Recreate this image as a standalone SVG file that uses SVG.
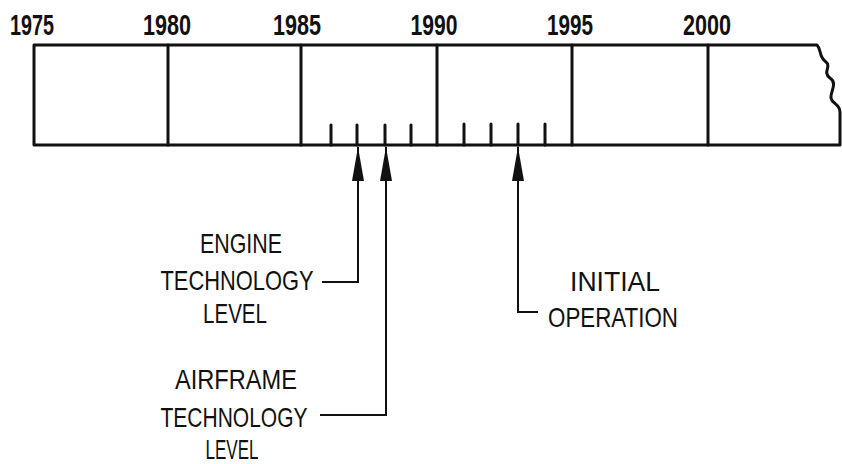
<svg xmlns="http://www.w3.org/2000/svg" width="842" height="464" viewBox="0 0 842 464">
<style>
.box{fill:none;stroke:#111;stroke-width:3;stroke-linejoin:round;stroke-linecap:round}
.tick{stroke:#111;stroke-width:3;stroke-linecap:round}
.lead{fill:none;stroke:#111;stroke-width:2}
.yr{font-family:"Liberation Sans Narrow","Liberation Sans",Arial,sans-serif;font-size:29px;font-weight:bold;fill:#111;text-anchor:middle}
.lbl{font-family:"Liberation Sans Narrow","Liberation Sans",Arial,sans-serif;font-size:28px;fill:#111;text-anchor:middle}
</style>
<defs>
<marker id="ah" viewBox="0 0 34 12" refX="34" refY="6" markerWidth="34" markerHeight="12" markerUnits="userSpaceOnUse" orient="auto">
<path d="M34,6 L0,0 L0,12 Z" fill="#111"/>
</marker>
</defs>
<g id="timeline">
<path class="box" d="M817,45 L34,45 L34,145 L840,145 L840,112 C840,104 832,104 831,98 C830,92 838,83 830,78 C822,72 832,66 826,62 C818,56 822,50 817,45 Z"/>
<line class="box" x1="168" y1="45" x2="168" y2="145"/>
<line class="box" x1="301" y1="45" x2="301" y2="145"/>
<line class="box" x1="437" y1="45" x2="437" y2="145"/>
<line class="box" x1="572" y1="45" x2="572" y2="145"/>
<line class="box" x1="708" y1="45" x2="708" y2="145"/>
<line class="tick" x1="331" y1="125" x2="331" y2="145"/>
<line class="tick" x1="357" y1="125" x2="357" y2="145"/>
<line class="tick" x1="385" y1="125" x2="385" y2="145"/>
<line class="tick" x1="411" y1="125" x2="411" y2="145"/>
<line class="tick" x1="464" y1="124" x2="464" y2="145"/>
<line class="tick" x1="491" y1="124" x2="491" y2="145"/>
<line class="tick" x1="518" y1="124" x2="518" y2="145"/>
<line class="tick" x1="545" y1="124" x2="545" y2="145"/>
<text class="yr" x="32" y="35" textLength="44" lengthAdjust="spacingAndGlyphs">1975</text>
<text class="yr" x="167" y="35" textLength="48" lengthAdjust="spacingAndGlyphs">1980</text>
<text class="yr" x="297" y="35" textLength="48" lengthAdjust="spacingAndGlyphs">1985</text>
<text class="yr" x="434" y="35" textLength="47" lengthAdjust="spacingAndGlyphs">1990</text>
<text class="yr" x="570" y="35" textLength="46" lengthAdjust="spacingAndGlyphs">1995</text>
<text class="yr" x="707" y="35" textLength="48" lengthAdjust="spacingAndGlyphs">2000</text>
</g>
<g id="connectors">
<path class="lead" d="M322,282 L358,282 L358,147" marker-end="url(#ah)"/>
<path class="lead" d="M320,415 L386,415 L386,147" marker-end="url(#ah)"/>
<path class="lead" d="M538,312 L518,312 L518,147" marker-end="url(#ah)"/>
</g>
<g id="engine">
<text class="lbl" x="241" y="253" textLength="82" lengthAdjust="spacingAndGlyphs">ENGINE</text>
<text class="lbl" x="237" y="290" textLength="153" lengthAdjust="spacingAndGlyphs">TECHNOLOGY</text>
<text class="lbl" x="235" y="323" textLength="64" lengthAdjust="spacingAndGlyphs">LEVEL</text>
</g>
<g id="airframe">
<text class="lbl" x="236" y="389" textLength="122" lengthAdjust="spacingAndGlyphs">AIRFRAME</text>
<text class="lbl" x="234" y="427" textLength="147" lengthAdjust="spacingAndGlyphs">TECHNOLOGY</text>
<text class="lbl" x="232" y="459" textLength="53" lengthAdjust="spacingAndGlyphs">LEVEL</text>
</g>
<g id="initial">
<text class="lbl" x="615" y="291" textLength="90" lengthAdjust="spacingAndGlyphs">INITIAL</text>
<text class="lbl" x="613" y="327" textLength="130" lengthAdjust="spacingAndGlyphs">OPERATION</text>
</g>
</svg>
